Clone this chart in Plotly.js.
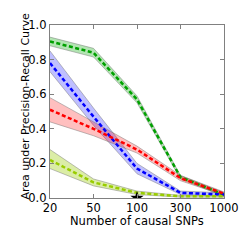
<!DOCTYPE html>
<html>
<head>
<meta charset="utf-8">
<script src="https://cdn.plot.ly/plotly-3.0.1.min.js"></script>
<style>html,body{margin:0;padding:0;background:#fff;}#chart{width:249px;height:249px;}</style>
</head>
<body>
<div id="chart"></div>
<script>
var categories = ["20", "50", "100", "300", "1000"];

var greenMean = [0.905, 0.84, 0.57, 0.12, 0.02];
var greenLow  = [0.88, 0.815, 0.55, 0.11, 0.01];
var greenHigh = [0.93, 0.865, 0.59, 0.13, 0.03];

var blueMean = [0.78, 0.47, 0.17, 0.03, 0.02];
var blueLow  = [0.73, 0.42, 0.14, 0.02, 0.01];
var blueHigh = [0.85, 0.52, 0.20, 0.04, 0.03];

var redMean = [0.51, 0.40, 0.28, 0.115, 0.025];
var redLow  = [0.44, 0.36, 0.26, 0.10, 0.015];
var redHigh = [0.58, 0.44, 0.30, 0.13, 0.035];

var yellowMean = [0.22, 0.09, 0.03, 0.01, 0.01];
var yellowLow  = [0.17, 0.07, 0.02, 0.005, 0.005];
var yellowHigh = [0.28, 0.11, 0.04, 0.015, 0.015];

var starX = ["100"];
var starY = [0.0];

var xTitle = "Number of causal SNPs";
var yTitle = "Area under Precision-Recall Curve";

var idx = categories.map(function(_, i){ return i; });
var starIdx = starX.map(function(c){ return categories.indexOf(c); });

var series = [
  {mean: greenMean, low: greenLow, high: greenHigh, line: "#00a000", fill: "rgba(0,170,0,0.3)"},
  {mean: blueMean, low: blueLow, high: blueHigh, line: "#0000ff", fill: "rgba(0,0,255,0.25)"},
  {mean: redMean, low: redLow, high: redHigh, line: "#ff0000", fill: "rgba(255,0,0,0.25)"},
  {mean: yellowMean, low: yellowLow, high: yellowHigh, line: "#99cc00", fill: "rgba(153,204,0,0.35)"}
];

var traces = [];
series.forEach(function(s){
  traces.push({x: idx, y: s.low, mode: "lines", line: {color: "rgba(120,120,120,0.6)", width: 0.8}, showlegend: false, hoverinfo: "skip"});
  traces.push({x: idx, y: s.high, mode: "lines", fill: "tonexty", fillcolor: s.fill, line: {color: "rgba(120,120,120,0.6)", width: 0.8}, showlegend: false, hoverinfo: "skip"});
});
series.forEach(function(s){
  traces.push({x: idx, y: s.mean, mode: "lines", line: {color: s.line, width: 2.5, dash: "4px,2.5px"}, showlegend: false});
});
traces.push({x: starIdx, y: starY, mode: "markers", marker: {symbol: "star", color: "black", size: 10}, cliponaxis: true, showlegend: false});

var axisCommon = {
  showgrid: false, zeroline: false, showline: true, mirror: "ticks",
  linecolor: "#808080", linewidth: 1.2, ticks: "inside", ticklen: 4, tickcolor: "#808080",
  tickfont: {family: "DejaVu Sans", size: 11.5, color: "#000"}
};

var layout = {
  width: 249, height: 249,
  margin: {l: 50, r: 25, t: 25, b: 51},
  paper_bgcolor: "#fff", plot_bgcolor: "#fff",
  xaxis: Object.assign({}, axisCommon, {
    range: [0, 4], tickmode: "array", tickvals: idx, ticktext: categories, ticklabelstandoff: -1
  }),
  yaxis: Object.assign({}, axisCommon, {
    range: [0, 1], tickmode: "array", tickvals: [0, 0.2, 0.4, 0.6, 0.8, 1.0],
    ticktext: ["0.0", "0.2", "0.4", "0.6", "0.8", "1.0"]
  }),
  annotations: [
    {text: xTitle, xref: "paper", yref: "paper", x: 0.5, y: 0, xanchor: "center", yanchor: "middle",
     yshift: -23, showarrow: false, font: {family: "DejaVu Sans", size: 11.5, color: "#000"}},
    {text: yTitle, xref: "paper", yref: "paper", x: 0, y: 0.5, xanchor: "center", yanchor: "middle",
     xshift: -25, yshift: 5, textangle: -90, showarrow: false, font: {family: "DejaVu Sans", size: 11, color: "#000"}}
  ]
};

Plotly.newPlot("chart", traces, layout, {displayModeBar: false, staticPlot: true});
</script>
</body>
</html>
